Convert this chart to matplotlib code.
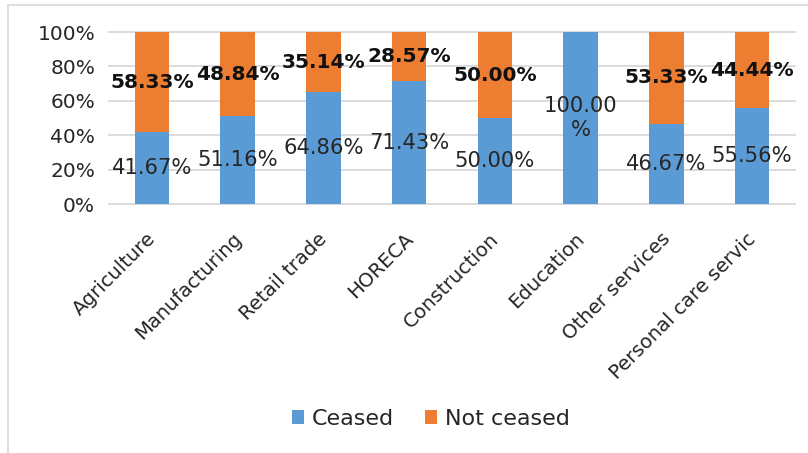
import matplotlib
matplotlib.use("Agg")
import matplotlib.pyplot as plt
import matplotlib.transforms as mtransforms
from matplotlib.lines import Line2D
from matplotlib.patches import Patch

# Share of firms per sector that ceased activity vs. did not
sectors = ["Agriculture", "Manufacturing", "Retail trade", "HORECA",
           "Construction", "Education", "Other services", "Personal care services"]
ceased = [41.67, 51.16, 64.86, 71.43, 50.00, 100.00, 46.67, 55.56]
not_ceased = [58.33, 48.84, 35.14, 28.57, 50.00, 0.00, 53.33, 44.44]
series_names = ["Ceased", "Not ceased"]
y_ticks = [0, 20, 40, 60, 80, 100]

BLUE = "#5B9BD5"
ORANGE = "#ED7D31"
GRID = "#D9D9D9"
TEXT = "#262626"

plt.rcParams["font.family"] = ["DejaVu Sans"]

fig = plt.figure(figsize=(8.08, 4.53), dpi=100)
W, H = 808, 453
ax = fig.add_axes([109 / W, 1 - 204 / H, (795 - 109) / W, (204 - 32) / H])

x = list(range(len(sectors)))
bw = 0.4
ax.bar(x, ceased, width=bw, color=BLUE, zorder=2)
ax.bar(x, not_ceased, width=bw, bottom=ceased, color=ORANGE, zorder=2)

ax.set_xlim(-0.5, len(sectors) - 0.5)
ax.set_ylim(0, 100)
ax.set_yticks(y_ticks)
ax.set_yticklabels([f"{t}%" for t in y_ticks], fontsize=14.5, color=TEXT)
ax.tick_params(axis="y", length=0, pad=10)
ax.set_xticks([])
for s in ax.spines.values():
    s.set_visible(False)
for t in y_ticks:
    ax.axhline(t, color=GRID, lw=1.3, zorder=1, clip_on=False)

# value labels in the middle of each segment
for i, (c, n) in enumerate(zip(ceased, not_ceased)):
    if c > 0:
        txt = f"{c:.2f}%" if c < 100 else f"{c:.2f}\n%"
        ax.text(i, c / 2, txt, ha="center", va="center", fontsize=15.2,
                color=TEXT, zorder=3, linespacing=1.2)
    if n > 0:
        ax.text(i, c + n / 2, f"{n:.2f}%", ha="center", va="center",
                fontsize=14.5, fontweight="bold", color="#111111", zorder=3)

# rotated category labels
trans = mtransforms.offset_copy(ax.get_xaxis_transform(), fig=fig,
                                x=5, y=-36, units="dots")
for i, name in enumerate(sectors):
    t = ax.text(i, 0, name, transform=trans, rotation=45, ha="right",
                va="baseline", rotation_mode="anchor", fontsize=14.2,
                color=TEXT, clip_on=False)
    if i == len(sectors) - 1:
        # long label is cut at the chart edge
        t.set_text("Personal care servic")

handles = [Patch(facecolor=BLUE), Patch(facecolor=ORANGE)]
fig.legend(handles, series_names, loc="center",
           bbox_to_anchor=(431 / W, 1 - 419 / H), ncol=2, frameon=False,
           fontsize=16, handlelength=0.55, handleheight=0.55,
           handletextpad=0.35, columnspacing=1.4, labelcolor=TEXT)

# chart-area border (left and top edges)
fig.add_artist(Line2D([8 / W, 8 / W], [0, 1 - 5 / H], transform=fig.transFigure,
                      color="#D9D9D9", lw=1.2))
fig.add_artist(Line2D([8 / W, 1], [1 - 5 / H, 1 - 5 / H], transform=fig.transFigure,
                      color="#D9D9D9", lw=1.2))

fig.savefig("out.png", dpi=100)
